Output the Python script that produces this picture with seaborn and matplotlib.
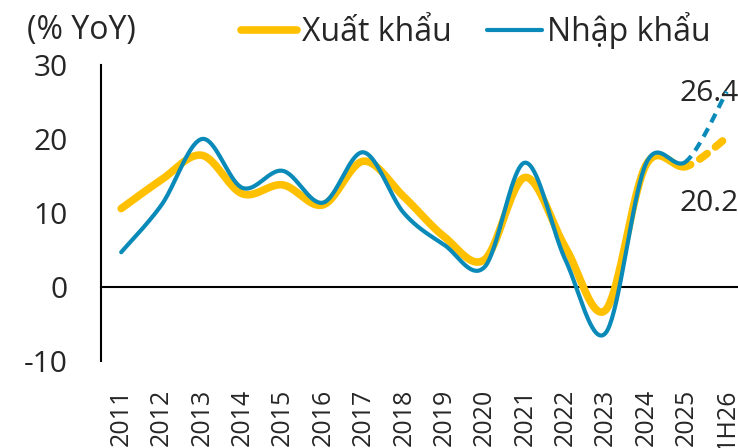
import numpy as np
import matplotlib
matplotlib.use("Agg")
import matplotlib.pyplot as plt
import seaborn as sns
from matplotlib.lines import Line2D

# ---------------------------------------------------------------
# data (% YoY)
# ---------------------------------------------------------------
years = ["2011", "2012", "2013", "2014", "2015", "2016", "2017", "2018",
         "2019", "2020", "2021", "2022", "2023", "2024", "2025", "1H26"]
exports = [10.6, 14.5, 17.8, 12.6, 13.8, 11.1, 17.0, 12.2,
           6.8, 3.7, 14.8, 5.4, -3.1, 16.5, 16.3, 20.2]
imports = [4.7, 11.1, 20.0, 13.4, 15.7, 11.4, 18.2, 10.0,
           5.7, 2.7, 16.8, 3.7, -6.2, 16.7, 17.0, 26.4]
y_ticks = [-10, 0, 10, 20, 30]

YELLOW = "#FFC000"
BLUE = "#0A8AB8"
NUM_FS = 21.5   # y tick labels / value labels
CAT_FS = 18     # year labels
TXT_FS = 23     # legend / unit label


def smooth(vals, n=40):
    """Excel-style smoothed line: cubic Bezier per segment (Catmull-Rom tangents).
    Returns one (x, y) array per segment so the last one can be dashed."""
    p = np.column_stack([np.arange(len(vals)), np.asarray(vals, float)])
    pad = np.vstack([p[0], p, p[-1]])
    t = np.linspace(0, 1, n)[:, None]
    segs = []
    for i in range(len(p) - 1):
        p0, p1, p2, p3 = pad[i], pad[i + 1], pad[i + 2], pad[i + 3]
        c1 = p1 + (p2 - p0) / 6
        c2 = p2 - (p3 - p1) / 6
        b = ((1 - t) ** 3) * p1 + 3 * ((1 - t) ** 2) * t * c1 \
            + 3 * (1 - t) * t ** 2 * c2 + t ** 3 * p2
        segs.append(b)
    return segs


sns.set_style("white")
plt.rcParams["font.family"] = ["Open Sans", "DejaVu Sans"]

fig = plt.figure(figsize=(7.38, 4.48), dpi=100)
ax = fig.add_axes([101 / 738, 87 / 448, 646 / 738, 296 / 448])

for vals, color, lw, dash, cap in [(exports, YELLOW, 5.5, (1.2, 1.4), "round"),
                                   (imports, BLUE, 3.0, (2.3, 1.6), "butt")]:
    segs = smooth(vals)
    solid = np.vstack(segs[:-1])
    ax.plot(solid[:, 0], solid[:, 1], color=color, lw=lw,
            solid_capstyle="round", zorder=3)
    last = segs[-1]
    ax.plot(last[:, 0], last[:, 1], color=color, lw=lw,
            linestyle=(0.6, dash), dash_capstyle=cap, zorder=3)

ax.set_xlim(-0.5, len(years) - 0.5)
ax.set_ylim(-10, 30)
ax.set_yticks(y_ticks)
ax.set_yticklabels([str(v) for v in y_ticks])

# spines: left axis and the zero line carrying the category boundary ticks
for s in ["top", "right"]:
    ax.spines[s].set_visible(False)
ax.spines["left"].set_linewidth(1.5)
ax.spines["left"].set_color("black")
ax.spines["bottom"].set_position(("data", 0))
ax.spines["bottom"].set_linewidth(1.5)
ax.spines["bottom"].set_color("black")

ax.set_xticks(np.arange(0.5, len(years) - 0.5, 1))
ax.tick_params(axis="x", direction="in", length=10, width=1.2,
               labelbottom=False, color="black")
ax.tick_params(axis="y", direction="in", length=11, width=1.2,
               labelsize=NUM_FS, pad=24, color="black")

# category labels along the bottom of the axes
sec = ax.secondary_xaxis(0)
sec.spines["bottom"].set_visible(False)
sec.set_xticks(range(len(years)))
sec.set_xticklabels(years, rotation=90, fontsize=CAT_FS)
sec.tick_params(length=0, pad=20)

# end value labels
ax.text(13.84, 26.2, f"{imports[-1]:.1f}", ha="left", va="center",
        fontsize=NUM_FS, zorder=2)
ax.text(13.84, 11.25, f"{exports[-1]:.1f}", ha="left", va="center",
        fontsize=NUM_FS, zorder=2)

# unit label and legend
fig.text(27 / 738, 1 - 31 / 448, "(% YoY)", ha="left", va="center", fontsize=TXT_FS)
handles = [Line2D([], [], color=YELLOW, lw=5.5, solid_capstyle="round"),
           Line2D([], [], color=BLUE, lw=3.0, solid_capstyle="round")]
fig.legend(handles, ["Xuất khẩu", "Nhập khẩu"], loc="center left",
           bbox_to_anchor=(241 / 738, 1 - 31 / 448), ncol=2, frameon=False,
           fontsize=TXT_FS, handlelength=1.75, handletextpad=0.15,
           columnspacing=1.1, borderaxespad=0, borderpad=0)

fig.savefig("out.png", dpi=100)
